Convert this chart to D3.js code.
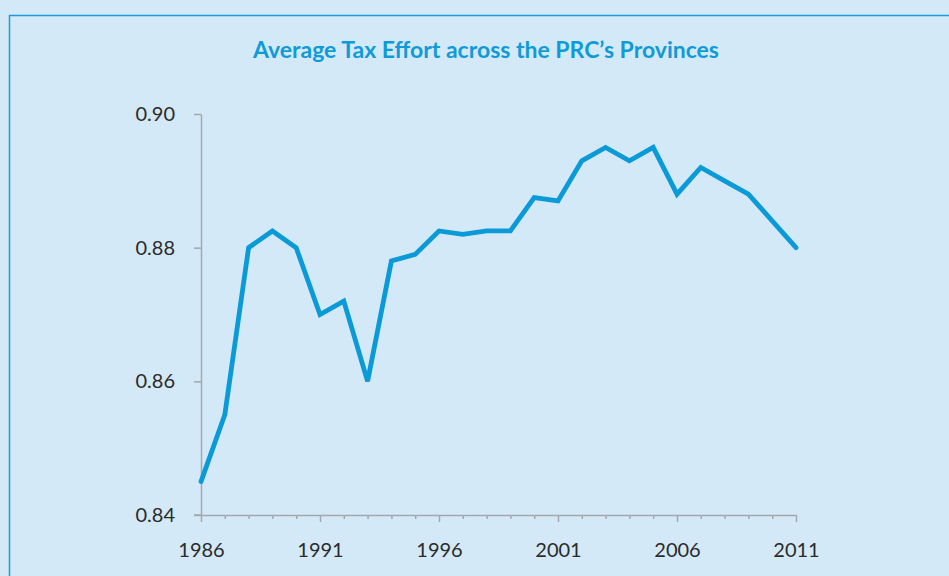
<!DOCTYPE html>
<html>
<head>
<meta charset="utf-8">
<script src="https://cdn.jsdelivr.net/npm/d3@7"></script>
<style>
  html, body { margin: 0; padding: 0; background: #d4e9f7; }
  svg { display: block; }
</style>
</head>
<body>
<svg id="chart" width="949" height="576"></svg>
<script>
// Average tax effort, 1986–2011
const years = [1986, 1987, 1988, 1989, 1990, 1991, 1992, 1993, 1994, 1995, 1996, 1997, 1998,
               1999, 2000, 2001, 2002, 2003, 2004, 2005, 2006, 2007, 2008, 2009, 2010, 2011];
const taxEffort = [0.845, 0.855, 0.880, 0.8825, 0.880, 0.870, 0.872, 0.860, 0.878, 0.879, 0.8825, 0.882, 0.8825,
                   0.8825, 0.8875, 0.887, 0.893, 0.895, 0.893, 0.895, 0.888, 0.892, 0.890, 0.888, 0.884, 0.880];
const yTicks = [0.84, 0.86, 0.88, 0.90];
const xLabelYears = [1986, 1991, 1996, 2001, 2006, 2011];
const title = "Average Tax Effort across the PRC\u2019s Provinces";

const svg = d3.select("#chart");
const blue = "#0a9ad8";
const axisGrey = "#a3a8ad";
const textCol = "#2b2b2b";

// frame
svg.append("rect")
  .attr("x", 9.5).attr("y", 15.5)
  .attr("width", 1000).attr("height", 1000)
  .attr("fill", "#d4e9f7")
  .attr("stroke", "#1b9bd7").attr("stroke-width", 1.5);

svg.append("text")
  .attr("x", 486).attr("y", 58)
  .attr("text-anchor", "middle")
  .attr("font-family", "Lato, 'Open Sans', sans-serif")
  .attr("font-weight", "bold")
  .attr("font-size", 23)
  .attr("fill", "#0f9bd9")
  .text(title);

const x = d3.scaleLinear().domain([1986, 2011]).range([201, 796]);
const y = d3.scaleLinear().domain([0.84, 0.90]).range([515, 114]);

// y axis
const yAxis = svg.append("g")
  .attr("transform", "translate(201,0)")
  .call(d3.axisLeft(y).tickValues(yTicks).tickFormat(d3.format(".2f")).tickSize(7).tickSizeOuter(0).tickPadding(19));
yAxis.select(".domain").attr("stroke", axisGrey).attr("stroke-width", 1.5);
yAxis.selectAll(".tick line").attr("stroke", axisGrey).attr("stroke-width", 1.5);
yAxis.selectAll(".tick text")
  .attr("font-family", "Lato, 'Open Sans', sans-serif")
  .attr("font-size", 20).attr("fill", textCol);

// x axis: a tick every year, longer ticks on labelled years
const xAxis = svg.append("g")
  .attr("transform", "translate(0,515)")
  .call(d3.axisBottom(x).tickValues(years).tickSize(4).tickSizeOuter(0).tickFormat(""));
xAxis.select(".domain").attr("stroke", axisGrey).attr("stroke-width", 1.5);
xAxis.selectAll(".tick line")
  .attr("stroke", axisGrey).attr("stroke-width", 1.5)
  .attr("y2", d => xLabelYears.includes(d) ? 7 : 4);
xAxis.selectAll(".tick")
  .filter(d => xLabelYears.includes(d))
  .append("text")
  .attr("y", 42)
  .attr("text-anchor", "middle")
  .attr("font-family", "Lato, 'Open Sans', sans-serif")
  .attr("font-size", 20).attr("fill", textCol)
  .text(d => d);

// the 0.84 tick extends the baseline to the left
svg.append("line")
  .attr("x1", 194).attr("x2", 201).attr("y1", 515).attr("y2", 515)
  .attr("stroke", axisGrey).attr("stroke-width", 1.5);

const line = d3.line()
  .x((d, i) => x(years[i]))
  .y(d => y(d));

svg.append("path")
  .datum(taxEffort)
  .attr("d", line)
  .attr("fill", "none")
  .attr("stroke", blue)
  .attr("stroke-width", 4.8)
  .attr("stroke-linejoin", "miter")
  .attr("stroke-linecap", "round");
</script>
</body>
</html>
